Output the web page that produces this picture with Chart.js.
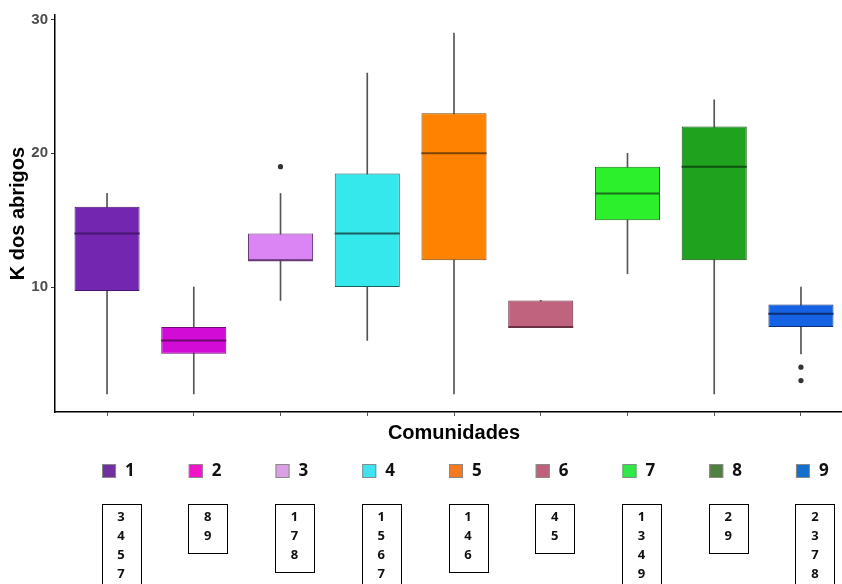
<!DOCTYPE html>
<html>
<head>
<meta charset="utf-8">
<script src="https://cdn.jsdelivr.net/npm/chart.js@4/dist/chart.umd.min.js"></script>
<style>
  html, body { margin: 0; padding: 0; background: #fff; overflow: hidden; }
  #wrap { width: 857px; height: 584px; }
</style>
</head>
<body>
<div id="wrap"><canvas id="c" width="857" height="584"></canvas></div>
<script>
// Communities and their K summaries (five-number summaries + outliers)
const categories = ['1', '2', '3', '4', '5', '6', '7', '8', '9'];
const whiskerLow  = [2, 2, 9, 6, 2, 7, 11, 2, 5];
const quartile1   = [9.7, 5, 12, 10, 12, 7, 15, 12, 7];
const medians     = [14, 6, 12, 14, 20, 7, 17, 19, 8];
const quartile3   = [16, 7, 14, 18.5, 23, 9, 19, 22, 8.7];
const whiskerHigh = [17, 10, 17, 26, 29, 9, 20, 24, 10];
const outlierCommunity = ['3', '9', '9'];
const outlierValues    = [19, 4, 3];

// Significance groups: communities that differ from each one
const groupLetters = [
  ['3', '4', '5', '7'],
  ['8', '9'],
  ['1', '7', '8'],
  ['1', '5', '6', '7'],
  ['1', '4', '6'],
  ['4', '5'],
  ['1', '3', '4', '9'],
  ['2', '9'],
  ['2', '3', '7', '8']
];

const yTicks = [10, 20, 30];

const boxFill   = ['#7327b1', '#d30bd6', '#db84f3', '#35e8ec', '#ff8200', '#c0637f', '#2cf02c', '#1fa31f', '#1562e4'];
const boxLine   = ['#451570', '#6e0a72', '#6a3a7c', '#1d5c5f', '#7a4300', '#6a3043', '#197019', '#0f4f0f', '#0c2f70'];
const legendFill = ['#7030a0', '#f014c8', '#d9a0e6', '#40e4f0', '#f47a20', '#c0607a', '#30e848', '#4e8040', '#1470cc'];

const xIndex = categories.map((c, i) => i + 1);

const boxData = categories.map((c, i) => ({ x: xIndex[i], y: [quartile1[i], quartile3[i]] }));
const whiskerData = categories.map((c, i) => ({ x: xIndex[i], y: [whiskerLow[i], whiskerHigh[i]] }));
const outlierData = outlierCommunity.map((c, k) => ({ x: categories.indexOf(c) + 1, y: outlierValues[k] }));

const FONT = "'Liberation Sans', Arial, sans-serif";
const LABEL_FONT = "'Open Sans', 'Liberation Sans', sans-serif";

// Median bars across each box
const medianPlugin = {
  id: 'medianLines',
  afterDatasetsDraw(chart) {
    const meta = chart.getDatasetMeta(0);
    const y = chart.scales.y;
    const ctx = chart.ctx;
    ctx.save();
    meta.data.forEach((bar, i) => {
      const py = y.getPixelForValue(medians[i]);
      ctx.strokeStyle = boxLine[i];
      ctx.lineWidth = 2;
      ctx.beginPath();
      ctx.moveTo(bar.x - bar.width / 2, py);
      ctx.lineTo(bar.x + bar.width / 2, py);
      ctx.stroke();
    });
    ctx.restore();
  }
};

// Colour key and group boxes underneath the axis
const keyPlugin = {
  id: 'communityKey',
  afterDraw(chart) {
    const ctx = chart.ctx;
    const x = chart.scales.x;
    ctx.save();
    categories.forEach((c, i) => {
      const xc = x.getPixelForValue(xIndex[i]);
      // colour swatch
      ctx.fillStyle = legendFill[i];
      ctx.fillRect(xc - 5, 464, 14, 14);
      ctx.strokeStyle = '#8a8a8a';
      ctx.lineWidth = 1;
      ctx.strokeRect(xc - 4.5, 464.5, 13, 13);
      ctx.fillStyle = '#111';
      ctx.font = 'bold 17px ' + LABEL_FONT;
      ctx.textAlign = 'left';
      ctx.textBaseline = 'middle';
      ctx.fillText(c, xc + 18, 471);

      // group box
      const lines = groupLetters[i];
      const bx = xc + 14;
      const top = 504;
      const h = lines.length * 19 + 11;
      ctx.strokeStyle = '#000';
      ctx.strokeRect(Math.round(bx - 19.5) + 0.5, top + 0.5, 39, h);
      ctx.font = 'bold 13px ' + LABEL_FONT;
      ctx.textAlign = 'center';
      ctx.fillStyle = '#111';
      lines.forEach((t, k) => ctx.fillText(t, bx, 517 + k * 19));
    });
    ctx.restore();
  }
};

new Chart(document.getElementById('c'), {
  type: 'bar',
  data: {
    datasets: [
      {
        label: 'box',
        data: boxData,
        backgroundColor: boxFill,
        borderColor: boxLine,
        borderWidth: 1,
        borderSkipped: false,
        grouped: false,
        categoryPercentage: 1,
        barPercentage: 0.75,
        order: 1
      },
      {
        label: 'whisker',
        data: whiskerData,
        backgroundColor: '#555',
        borderWidth: 0,
        grouped: false,
        barThickness: 1,
        order: 2
      },
      {
        type: 'scatter',
        label: 'outlier',
        data: outlierData,
        pointRadius: 2.6,
        pointBackgroundColor: '#333',
        pointBorderWidth: 0,
        order: 0
      }
    ]
  },
  options: {
    responsive: false,
    animation: false,
    events: [],
    layout: { padding: { top: 15, left: 0, right: 0, bottom: 135 } },
    plugins: {
      legend: { display: false },
      tooltip: { enabled: false }
    },
    scales: {
      x: {
        type: 'linear',
        min: 0.4,
        max: 9.6,
        offset: false,
        afterBuildTicks: s => { s.ticks = xIndex.map(v => ({ value: v })); },
        ticks: { display: false },
        grid: { offset: false, drawOnChartArea: false, drawTicks: true, tickLength: 4, color: '#555' },
        border: { display: true, color: '#000', width: 1.5 },
        title: {
          display: true,
          text: 'Comunidades',
          color: '#000',
          font: { family: FONT, size: 20, weight: 'bold' },
          padding: { top: 5, bottom: 4 }
        }
      },
      y: {
        min: 0.65,
        max: 30.35,
        beginAtZero: false,
        afterBuildTicks: s => { s.ticks = yTicks.map(v => ({ value: v })); },
        afterFit: s => { s.width = 55; },
        ticks: {
          color: '#4d4d4d',
          padding: 3,
          font: { family: FONT, size: 15, weight: 'bold' }
        },
        grid: { drawOnChartArea: false, drawTicks: true, tickLength: 4, color: '#333' },
        border: { display: true, color: '#000', width: 1.5 },
        title: {
          display: true,
          text: 'K dos abrigos',
          color: '#000',
          font: { family: FONT, size: 20, weight: 'bold' },
          padding: { top: 6, bottom: 0 }
        }
      }
    }
  },
  plugins: [medianPlugin, keyPlugin]
});
</script>
</body>
</html>
